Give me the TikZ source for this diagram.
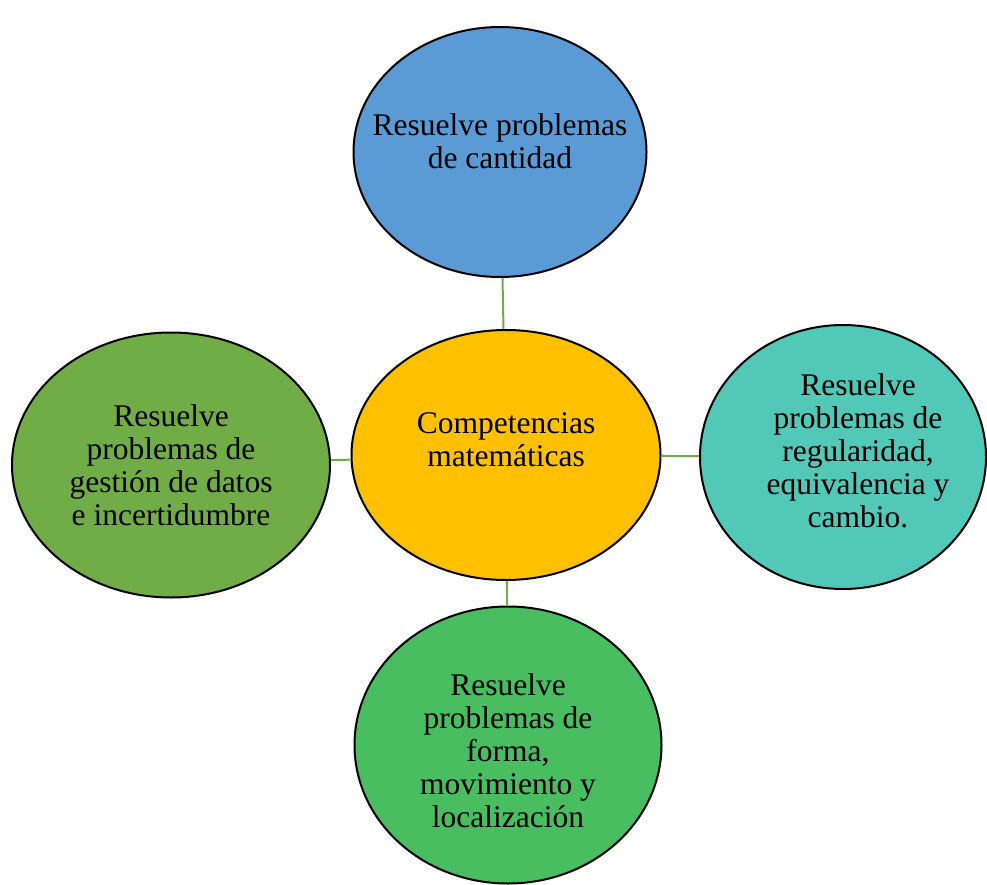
\documentclass[tikz,border=0pt]{standalone}
\usepackage{fontspec}
\setmainfont{Liberation Serif}
\usetikzlibrary{shapes.geometric}

\definecolor{cblue}{HTML}{5B9BD5}
\definecolor{cgold}{HTML}{FFC000}
\definecolor{cteal}{HTML}{52C8B8}
\definecolor{colive}{HTML}{70AD47}
\definecolor{cgreen}{HTML}{48BE60}

\begin{document}
\begin{tikzpicture}[x=1pt, y=-1pt,
		comp/.style = {draw, ellipse, line width=2pt, inner sep=0pt},
		txt/.style = {align=center, font=\fontsize{31.5}{33}\selectfont},
		link/.style = {draw=colive, line width=2pt}]
		\useasboundingbox (0,0) rectangle (987,885);
		
		% the five ellipses, text set as a centred label
		\node[comp, fill=cgold, minimum width=309, minimum height=250,
			label={[txt, yshift=15]center:Competencias\\matemáticas}] (mid) at (506,455) {};
		\node[comp, fill=cblue, minimum width=293, minimum height=250,
			label={[txt, yshift=11]center:Resuelve problemas\\de cantidad}] (cant) at (500,152) {};
		\node[comp, fill=cteal, minimum width=286, minimum height=264,
			label={[txt, xshift=15, yshift=6]center:Resuelve\\problemas de\\regularidad,\\equivalencia y\\cambio.}] (reg) at (843,457) {};
		\node[comp, fill=colive, minimum width=318, minimum height=265,
			label={[txt]center:Resuelve\\problemas de\\gestión de datos\\e incertidumbre}] (dat) at (171,465) {};
		\node[comp, fill=cgreen, minimum width=307, minimum height=277,
			label={[txt, yshift=-6]center:Resuelve\\problemas de\\forma,\\movimiento y\\localización}] (forma) at (508,745) {};
		
		\draw[link] (cant) -- (mid);
		\draw[link] (mid) -- (reg);
		\draw[link] (mid) -- (dat);
		\draw[link] (mid) -- (forma);
	\end{tikzpicture}
\end{document}
